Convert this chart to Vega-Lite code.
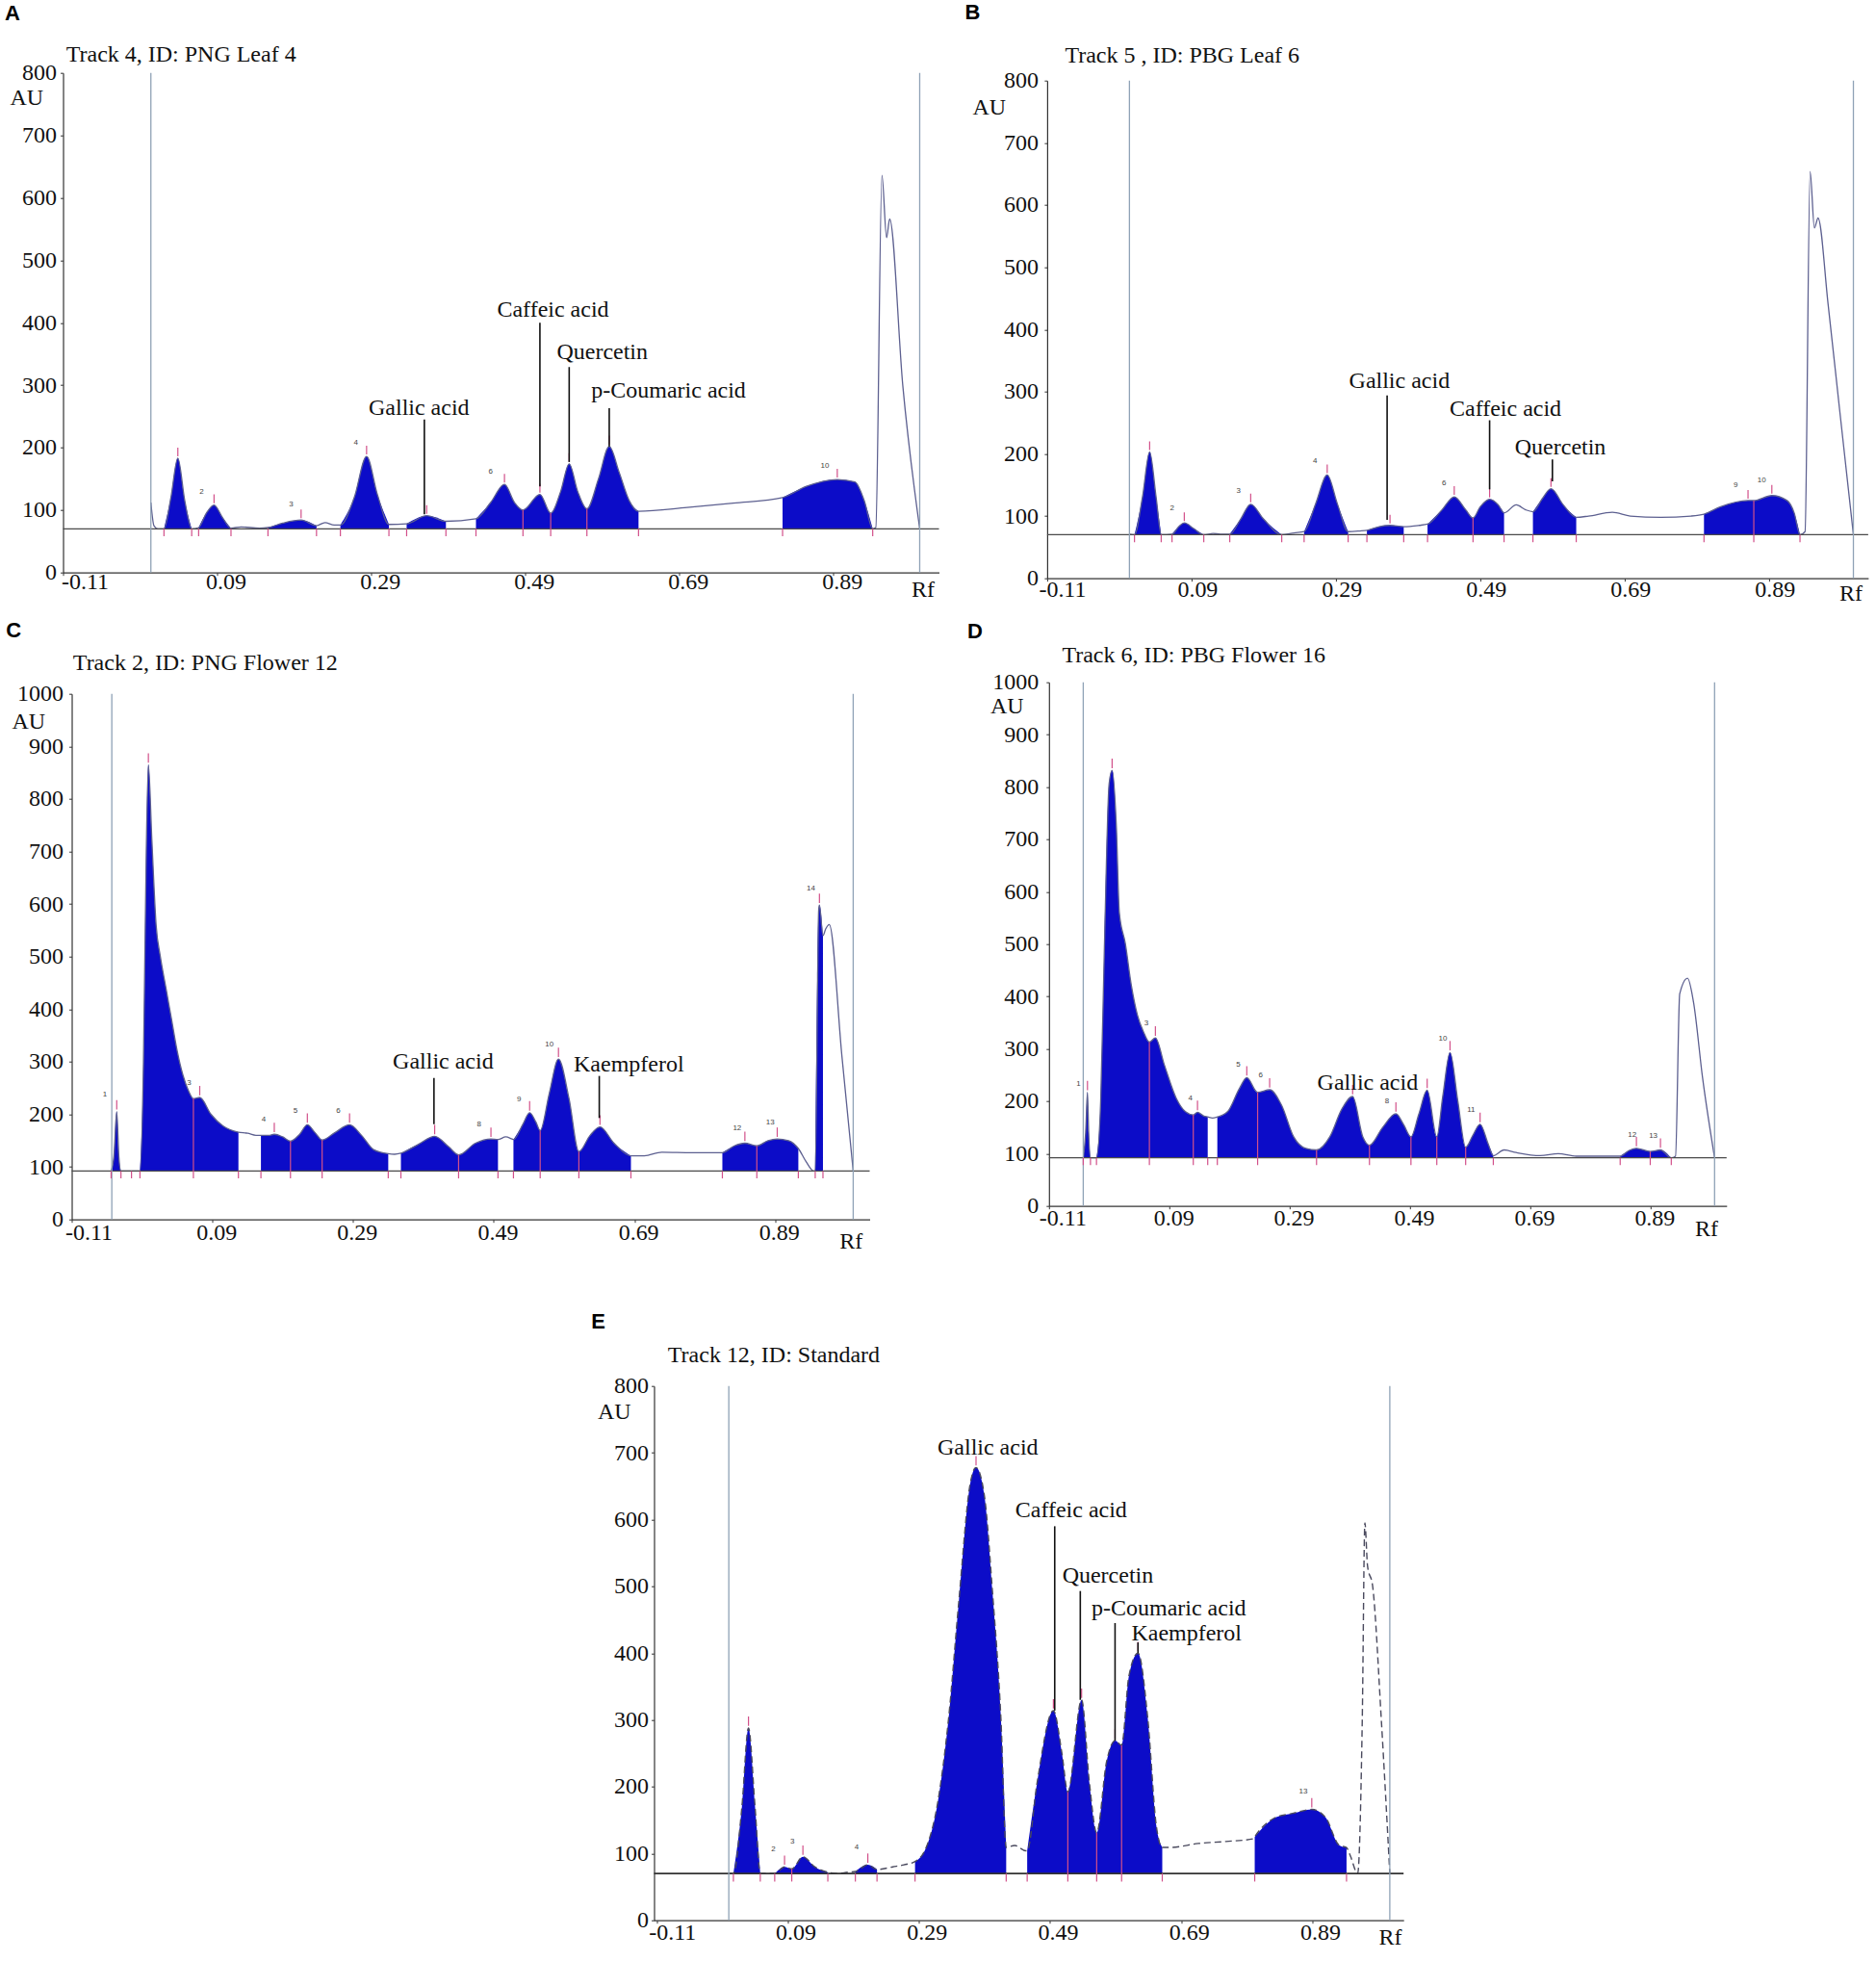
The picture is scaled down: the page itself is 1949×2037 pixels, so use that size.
{
"$schema": "https://vega.github.io/schema/vega-lite/v6.json",
"background": "white",
"padding": {"left": 4.5, "top": 0.7, "right": 0, "bottom": 0},
"config": {
 "view": {"stroke": null},
 "axis": {"grid": false, "labelFont": "Liberation Serif", "labelFontSize": 24, "labelColor": "#111", "titleFont": "Liberation Serif", "titleFontSize": 24, "titleFontWeight": "normal", "titleColor": "#111", "domainColor": "#333", "domainWidth": 1.2, "tickColor": "#333", "tickSize": 3, "labelOverlap": false, "labelFlush": false},
 "axisX": {"labelBaseline": "middle", "titleAlign": "center", "titleBaseline": "middle", "labelExpr": "replace(datum.label, '\u2212', '-')", "labelAlign": {"condition": {"test": "datum.value < -0.1", "value": "left"}, "value": "center"}},
 "axisY": {"titleAngle": 0, "titleAlign": "left", "titleBaseline": "middle", "format": "d"}
},
"datasets": {
 "trace": [
  {"p":"A","rf":0.004,"au":112},{"p":"A","rf":0.008,"au":75},{"p":"A","rf":0.013,"au":70},
  {"p":"A","rf":0.021,"au":70,"s":"1"},{"p":"A","rf":0.030,"au":120,"s":"1"},{"p":"A","rf":0.039,"au":183,"s":"1"},{"p":"A","rf":0.048,"au":115,"s":"1"},{"p":"A","rf":0.057,"au":70,"s":"1"},
  {"p":"A","rf":0.066,"au":72,"s":"2"},{"p":"A","rf":0.076,"au":95,"s":"2"},{"p":"A","rf":0.086,"au":108,"s":"2"},{"p":"A","rf":0.097,"au":88,"s":"2"},{"p":"A","rf":0.108,"au":71,"s":"2"},
  {"p":"A","rf":0.121,"au":73},{"p":"A","rf":0.145,"au":71},
  {"p":"A","rf":0.156,"au":72,"s":"3"},{"p":"A","rf":0.175,"au":79,"s":"3"},{"p":"A","rf":0.199,"au":84,"s":"3"},{"p":"A","rf":0.219,"au":75,"s":"3"},
  {"p":"A","rf":0.230,"au":80},{"p":"A","rf":0.242,"au":76},
  {"p":"A","rf":0.250,"au":76,"s":"4"},{"p":"A","rf":0.268,"au":120,"s":"4"},{"p":"A","rf":0.284,"au":186,"s":"4"},{"p":"A","rf":0.298,"au":125,"s":"4"},{"p":"A","rf":0.313,"au":77,"s":"4"},
  {"p":"A","rf":0.336,"au":78,"s":"5"},{"p":"A","rf":0.362,"au":91,"s":"5"},{"p":"A","rf":0.387,"au":82,"s":"5"},
  {"p":"A","rf":0.426,"au":86,"s":"6"},{"p":"A","rf":0.445,"au":112,"s":"6"},{"p":"A","rf":0.463,"au":141,"s":"6"},{"p":"A","rf":0.476,"au":112,"s":"6"},{"p":"A","rf":0.487,"au":100,"s":"6"},{"p":"A","rf":0.509,"au":125,"s":"6"},{"p":"A","rf":0.523,"au":95,"s":"6"},{"p":"A","rf":0.536,"au":130,"s":"6"},{"p":"A","rf":0.547,"au":174,"s":"6"},{"p":"A","rf":0.558,"au":130,"s":"6"},{"p":"A","rf":0.570,"au":102,"s":"6"},{"p":"A","rf":0.585,"au":150,"s":"6"},{"p":"A","rf":0.599,"au":202,"s":"6"},{"p":"A","rf":0.612,"au":160,"s":"6"},{"p":"A","rf":0.625,"au":115,"s":"6"},{"p":"A","rf":0.637,"au":98,"s":"6"},
  {"p":"A","rf":0.700,"au":104},{"p":"A","rf":0.760,"au":111},
  {"p":"A","rf":0.824,"au":120,"s":"7"},{"p":"A","rf":0.855,"au":138,"s":"7"},{"p":"A","rf":0.895,"au":149,"s":"7"},{"p":"A","rf":0.918,"au":145,"s":"7"},{"p":"A","rf":0.930,"au":115,"s":"7"},{"p":"A","rf":0.941,"au":70,"s":"7"},
  {"p":"A","rf":0.945,"au":72},{"p":"A","rf":0.953,"au":636},{"p":"A","rf":0.959,"au":536},{"p":"A","rf":0.963,"au":566},{"p":"A","rf":0.980,"au":300},{"p":"A","rf":1.002,"au":70},

  {"p":"B","rf":0.004,"au":71},
  {"p":"B","rf":0.011,"au":70,"s":"1"},{"p":"B","rf":0.022,"au":130,"s":"1"},{"p":"B","rf":0.032,"au":203,"s":"1"},{"p":"B","rf":0.041,"au":130,"s":"1"},{"p":"B","rf":0.048,"au":70,"s":"1"},
  {"p":"B","rf":0.063,"au":71,"s":"2"},{"p":"B","rf":0.073,"au":84,"s":"2"},{"p":"B","rf":0.080,"au":89,"s":"2"},{"p":"B","rf":0.093,"au":80,"s":"2"},{"p":"B","rf":0.107,"au":70,"s":"2"},
  {"p":"B","rf":0.120,"au":72},{"p":"B","rf":0.130,"au":71},
  {"p":"B","rf":0.143,"au":71,"s":"3"},{"p":"B","rf":0.158,"au":95,"s":"3"},{"p":"B","rf":0.172,"au":119,"s":"3"},{"p":"B","rf":0.190,"au":95,"s":"3"},{"p":"B","rf":0.215,"au":70,"s":"3"},
  {"p":"B","rf":0.232,"au":73},
  {"p":"B","rf":0.246,"au":75,"s":"4"},{"p":"B","rf":0.262,"au":120,"s":"4"},{"p":"B","rf":0.278,"au":166,"s":"4"},{"p":"B","rf":0.292,"au":120,"s":"4"},{"p":"B","rf":0.307,"au":75,"s":"4"},
  {"p":"B","rf":0.323,"au":76},
  {"p":"B","rf":0.333,"au":77,"s":"5"},{"p":"B","rf":0.350,"au":83,"s":"5"},{"p":"B","rf":0.365,"au":85,"s":"5"},{"p":"B","rf":0.384,"au":83,"s":"5"},
  {"p":"B","rf":0.405,"au":85},
  {"p":"B","rf":0.417,"au":87,"s":"6"},{"p":"B","rf":0.437,"au":110,"s":"6"},{"p":"B","rf":0.454,"au":131,"s":"6"},{"p":"B","rf":0.470,"au":110,"s":"6"},{"p":"B","rf":0.480,"au":97,"s":"6"},{"p":"B","rf":0.490,"au":115,"s":"6"},{"p":"B","rf":0.503,"au":127,"s":"6"},{"p":"B","rf":0.515,"au":118,"s":"6"},{"p":"B","rf":0.523,"au":105,"s":"6"},
  {"p":"B","rf":0.540,"au":118},{"p":"B","rf":0.553,"au":110},
  {"p":"B","rf":0.563,"au":107,"s":"7"},{"p":"B","rf":0.576,"au":128,"s":"7"},{"p":"B","rf":0.588,"au":144,"s":"7"},{"p":"B","rf":0.605,"au":118,"s":"7"},{"p":"B","rf":0.623,"au":98,"s":"7"},
  {"p":"B","rf":0.640,"au":100},{"p":"B","rf":0.673,"au":106},{"p":"B","rf":0.698,"au":100},{"p":"B","rf":0.740,"au":98},{"p":"B","rf":0.782,"au":100},
  {"p":"B","rf":0.800,"au":103,"s":"8"},{"p":"B","rf":0.823,"au":115,"s":"8"},{"p":"B","rf":0.861,"au":125,"s":"8"},{"p":"B","rf":0.869,"au":125,"s":"8"},{"p":"B","rf":0.894,"au":133,"s":"8"},{"p":"B","rf":0.915,"au":125,"s":"8"},{"p":"B","rf":0.925,"au":105,"s":"8"},{"p":"B","rf":0.933,"au":70,"s":"8"},
  {"p":"B","rf":0.940,"au":75},{"p":"B","rf":0.947,"au":654},{"p":"B","rf":0.953,"au":563},{"p":"B","rf":0.958,"au":579},{"p":"B","rf":0.972,"au":440},{"p":"B","rf":0.988,"au":270},{"p":"B","rf":1.007,"au":70},

  {"p":"C","rf":-0.054,"au":92,"s":"1"},{"p":"C","rf":-0.050,"au":120,"s":"1"},{"p":"C","rf":-0.046,"au":205,"s":"1"},{"p":"C","rf":-0.043,"au":120,"s":"1"},{"p":"C","rf":-0.040,"au":92,"s":"1"},
  {"p":"C","rf":-0.025,"au":92},
  {"p":"C","rf":-0.013,"au":92,"s":"2"},{"p":"C","rf":-0.008,"au":300,"s":"2"},{"p":"C","rf":-0.004,"au":700,"s":"2"},{"p":"C","rf":-0.001,"au":865,"s":"2"},{"p":"C","rf":0.004,"au":720,"s":"2"},{"p":"C","rf":0.010,"au":560,"s":"2"},{"p":"C","rf":0.016,"au":500,"s":"2"},{"p":"C","rf":0.024,"au":440,"s":"2"},{"p":"C","rf":0.032,"au":380,"s":"2"},{"p":"C","rf":0.040,"au":320,"s":"2"},{"p":"C","rf":0.048,"au":275,"s":"2"},{"p":"C","rf":0.056,"au":245,"s":"2"},{"p":"C","rf":0.063,"au":230,"s":"2"},{"p":"C","rf":0.072,"au":232,"s":"2"},{"p":"C","rf":0.088,"au":200,"s":"2"},{"p":"C","rf":0.105,"au":178,"s":"2"},{"p":"C","rf":0.127,"au":166,"s":"2"},
  {"p":"C","rf":0.140,"au":164},{"p":"C","rf":0.152,"au":160},
  {"p":"C","rf":0.159,"au":160,"s":"3"},{"p":"C","rf":0.170,"au":160,"s":"3"},{"p":"C","rf":0.178,"au":162,"s":"3"},{"p":"C","rf":0.190,"au":157,"s":"3"},{"p":"C","rf":0.201,"au":149,"s":"3"},{"p":"C","rf":0.214,"au":162,"s":"3"},{"p":"C","rf":0.225,"au":180,"s":"3"},{"p":"C","rf":0.236,"au":165,"s":"3"},{"p":"C","rf":0.246,"au":151,"s":"3"},{"p":"C","rf":0.264,"au":165,"s":"3"},{"p":"C","rf":0.285,"au":180,"s":"3"},{"p":"C","rf":0.302,"au":160,"s":"3"},{"p":"C","rf":0.319,"au":133,"s":"3"},{"p":"C","rf":0.340,"au":125,"s":"3"},
  {"p":"C","rf":0.349,"au":124},
  {"p":"C","rf":0.358,"au":126,"s":"4"},{"p":"C","rf":0.383,"au":143,"s":"4"},{"p":"C","rf":0.406,"au":158,"s":"4"},{"p":"C","rf":0.426,"au":138,"s":"4"},{"p":"C","rf":0.440,"au":123,"s":"4"},{"p":"C","rf":0.464,"au":145,"s":"4"},{"p":"C","rf":0.486,"au":153,"s":"4"},{"p":"C","rf":0.496,"au":152,"s":"4"},
  {"p":"C","rf":0.507,"au":157},{"p":"C","rf":0.516,"au":153},
  {"p":"C","rf":0.518,"au":152,"s":"5"},{"p":"C","rf":0.531,"au":180,"s":"5"},{"p":"C","rf":0.541,"au":203,"s":"5"},{"p":"C","rf":0.550,"au":185,"s":"5"},{"p":"C","rf":0.556,"au":169,"s":"5"},{"p":"C","rf":0.569,"au":240,"s":"5"},{"p":"C","rf":0.582,"au":305,"s":"5"},{"p":"C","rf":0.597,"au":230,"s":"5"},{"p":"C","rf":0.611,"au":129,"s":"5"},{"p":"C","rf":0.627,"au":160,"s":"5"},{"p":"C","rf":0.641,"au":176,"s":"5"},{"p":"C","rf":0.661,"au":145,"s":"5"},{"p":"C","rf":0.685,"au":121,"s":"5"},
  {"p":"C","rf":0.704,"au":121},{"p":"C","rf":0.729,"au":128},{"p":"C","rf":0.772,"au":127},
  {"p":"C","rf":0.815,"au":127,"s":"6"},{"p":"C","rf":0.832,"au":140,"s":"6"},{"p":"C","rf":0.847,"au":145,"s":"6"},{"p":"C","rf":0.864,"au":140,"s":"6"},{"p":"C","rf":0.880,"au":150,"s":"6"},{"p":"C","rf":0.893,"au":153,"s":"6"},{"p":"C","rf":0.909,"au":150,"s":"6"},{"p":"C","rf":0.923,"au":135,"s":"6"},
  {"p":"C","rf":0.934,"au":110},{"p":"C","rf":0.945,"au":92},
  {"p":"C","rf":0.947,"au":92,"s":"7"},{"p":"C","rf":0.952,"au":590,"s":"7"},{"p":"C","rf":0.953,"au":598,"s":"7"},{"p":"C","rf":0.958,"au":540,"s":"7"},
  {"p":"C","rf":0.962,"au":553},{"p":"C","rf":0.967,"au":561},{"p":"C","rf":0.985,"au":310},{"p":"C","rf":1.001,"au":92},

  {"p":"D","rf":-0.053,"au":92,"s":"1"},{"p":"D","rf":-0.049,"au":140,"s":"1"},{"p":"D","rf":-0.046,"au":217,"s":"1"},{"p":"D","rf":-0.044,"au":140,"s":"1"},{"p":"D","rf":-0.041,"au":92,"s":"1"},
  {"p":"D","rf":-0.036,"au":92},
  {"p":"D","rf":-0.031,"au":92,"s":"2"},{"p":"D","rf":-0.024,"au":200,"s":"2"},{"p":"D","rf":-0.018,"au":485,"s":"2"},{"p":"D","rf":-0.010,"au":806,"s":"2"},{"p":"D","rf":-0.005,"au":832,"s":"2"},{"p":"D","rf":0.002,"au":726,"s":"2"},{"p":"D","rf":0.007,"au":560,"s":"2"},{"p":"D","rf":0.017,"au":501,"s":"2"},{"p":"D","rf":0.027,"au":421,"s":"2"},{"p":"D","rf":0.037,"au":365,"s":"2"},{"p":"D","rf":0.047,"au":333,"s":"2"},{"p":"D","rf":0.057,"au":313,"s":"2"},{"p":"D","rf":0.067,"au":321,"s":"2"},{"p":"D","rf":0.082,"au":269,"s":"2"},{"p":"D","rf":0.102,"au":205,"s":"2"},{"p":"D","rf":0.117,"au":180,"s":"2"},{"p":"D","rf":0.130,"au":174,"s":"2"},{"p":"D","rf":0.137,"au":179,"s":"2"},{"p":"D","rf":0.147,"au":172,"s":"2"},{"p":"D","rf":0.154,"au":170,"s":"2"},
  {"p":"D","rf":0.162,"au":168},
  {"p":"D","rf":0.170,"au":170,"s":"3"},{"p":"D","rf":0.187,"au":180,"s":"3"},{"p":"D","rf":0.207,"au":225,"s":"3"},{"p":"D","rf":0.219,"au":245,"s":"3"},{"p":"D","rf":0.237,"au":217,"s":"3"},{"p":"D","rf":0.257,"au":222,"s":"3"},{"p":"D","rf":0.277,"au":192,"s":"3"},{"p":"D","rf":0.297,"au":132,"s":"3"},{"p":"D","rf":0.317,"au":110,"s":"3"},{"p":"D","rf":0.335,"au":107,"s":"3"},{"p":"D","rf":0.357,"au":132,"s":"3"},{"p":"D","rf":0.377,"au":185,"s":"3"},{"p":"D","rf":0.395,"au":209,"s":"3"},{"p":"D","rf":0.412,"au":132,"s":"3"},{"p":"D","rf":0.423,"au":116,"s":"3"},{"p":"D","rf":0.445,"au":150,"s":"3"},{"p":"D","rf":0.467,"au":176,"s":"3"},{"p":"D","rf":0.480,"au":155,"s":"3"},{"p":"D","rf":0.492,"au":132,"s":"3"},{"p":"D","rf":0.505,"au":175,"s":"3"},{"p":"D","rf":0.519,"au":221,"s":"3"},{"p":"D","rf":0.535,"au":132,"s":"3"},{"p":"D","rf":0.545,"au":210,"s":"3"},{"p":"D","rf":0.557,"au":293,"s":"3"},{"p":"D","rf":0.570,"au":200,"s":"3"},{"p":"D","rf":0.583,"au":112,"s":"3"},{"p":"D","rf":0.595,"au":135,"s":"3"},{"p":"D","rf":0.607,"au":156,"s":"3"},{"p":"D","rf":0.620,"au":120,"s":"3"},{"p":"D","rf":0.629,"au":96,"s":"3"},
  {"p":"D","rf":0.647,"au":107},{"p":"D","rf":0.667,"au":102},{"p":"D","rf":0.707,"au":96},{"p":"D","rf":0.737,"au":100},{"p":"D","rf":0.767,"au":95},{"p":"D","rf":0.807,"au":95},
  {"p":"D","rf":0.840,"au":95,"s":"4"},{"p":"D","rf":0.855,"au":106,"s":"4"},{"p":"D","rf":0.867,"au":110,"s":"4"},{"p":"D","rf":0.890,"au":104,"s":"4"},{"p":"D","rf":0.907,"au":107,"s":"4"},{"p":"D","rf":0.925,"au":92,"s":"4"},
  {"p":"D","rf":0.932,"au":95},{"p":"D","rf":0.939,"au":405},{"p":"D","rf":0.952,"au":435},{"p":"D","rf":0.962,"au":389},{"p":"D","rf":0.977,"au":245},{"p":"D","rf":0.997,"au":92},

  {"p":"E","rf":0.000,"au":70},
  {"p":"E","rf":0.007,"au":70,"s":"1"},{"p":"E","rf":0.020,"au":170,"s":"1"},{"p":"E","rf":0.030,"au":288,"s":"1"},{"p":"E","rf":0.040,"au":170,"s":"1"},{"p":"E","rf":0.048,"au":70,"s":"1"},
  {"p":"E","rf":0.060,"au":70},
  {"p":"E","rf":0.070,"au":70,"s":"2"},{"p":"E","rf":0.085,"au":80,"s":"2"},{"p":"E","rf":0.096,"au":77,"s":"2"},{"p":"E","rf":0.113,"au":95,"s":"2"},{"p":"E","rf":0.131,"au":80,"s":"2"},{"p":"E","rf":0.151,"au":72,"s":"2"},
  {"p":"E","rf":0.165,"au":70},{"p":"E","rf":0.182,"au":72},
  {"p":"E","rf":0.193,"au":73,"s":"3"},{"p":"E","rf":0.212,"au":83,"s":"3"},{"p":"E","rf":0.226,"au":76,"s":"3"},
  {"p":"E","rf":0.250,"au":80},{"p":"E","rf":0.267,"au":83},
  {"p":"E","rf":0.284,"au":88,"s":"4"},{"p":"E","rf":0.301,"au":109,"s":"4"},{"p":"E","rf":0.318,"au":173,"s":"4"},{"p":"E","rf":0.335,"au":301,"s":"4"},{"p":"E","rf":0.351,"au":480,"s":"4"},{"p":"E","rf":0.368,"au":653,"s":"4"},{"p":"E","rf":0.377,"au":678,"s":"4"},{"p":"E","rf":0.390,"au":634,"s":"4"},{"p":"E","rf":0.402,"au":493,"s":"4"},{"p":"E","rf":0.415,"au":301,"s":"4"},{"p":"E","rf":0.423,"au":109,"s":"4"},
  {"p":"E","rf":0.436,"au":112},{"p":"E","rf":0.453,"au":104},
  {"p":"E","rf":0.455,"au":104,"s":"5"},{"p":"E","rf":0.470,"au":205,"s":"5"},{"p":"E","rf":0.495,"au":314,"s":"5"},{"p":"E","rf":0.508,"au":250,"s":"5"},{"p":"E","rf":0.517,"au":192,"s":"5"},{"p":"E","rf":0.538,"au":330,"s":"5"},{"p":"E","rf":0.550,"au":205,"s":"5"},{"p":"E","rf":0.561,"au":131,"s":"5"},{"p":"E","rf":0.576,"au":237,"s":"5"},{"p":"E","rf":0.589,"au":269,"s":"5"},{"p":"E","rf":0.599,"au":262,"s":"5"},{"p":"E","rf":0.610,"au":365,"s":"5"},{"p":"E","rf":0.624,"au":400,"s":"5"},{"p":"E","rf":0.639,"au":301,"s":"5"},{"p":"E","rf":0.652,"au":141,"s":"5"},{"p":"E","rf":0.661,"au":109,"s":"5"},
  {"p":"E","rf":0.673,"au":109},{"p":"E","rf":0.716,"au":115},{"p":"E","rf":0.758,"au":118},{"p":"E","rf":0.800,"au":122},
  {"p":"E","rf":0.802,"au":125,"s":"6"},{"p":"E","rf":0.834,"au":154,"s":"6"},{"p":"E","rf":0.860,"au":160,"s":"6"},{"p":"E","rf":0.889,"au":166,"s":"6"},{"p":"E","rf":0.910,"au":154,"s":"6"},{"p":"E","rf":0.931,"au":112,"s":"6"},{"p":"E","rf":0.942,"au":109,"s":"6"},
  {"p":"E","rf":0.948,"au":96},{"p":"E","rf":0.959,"au":70},{"p":"E","rf":0.966,"au":300},{"p":"E","rf":0.970,"au":595},{"p":"E","rf":0.974,"au":531},{"p":"E","rf":0.982,"au":499},{"p":"E","rf":0.995,"au":301},{"p":"E","rf":1.008,"au":70}
 ],
 "bl": [{"p":"A","au":70},{"p":"B","au":70},{"p":"C","au":92},{"p":"D","au":92},{"p":"E","au":70}],
 "vl": [{"p":"A","rf":0.004},{"p":"A","rf":1.002},{"p":"B","rf":0.004},{"p":"B","rf":1.007},{"p":"C","rf":-0.053},{"p":"C","rf":1.001},{"p":"D","rf":-0.053},{"p":"D","rf":0.997},{"p":"E","rf":0.0},{"p":"E","rf":1.008}],
 "tk": [
  {"p":"A","rf":0.021,"lo":58,"hi":70},{"p":"A","rf":0.057,"lo":58,"hi":70},{"p":"A","rf":0.066,"lo":58,"hi":70},{"p":"A","rf":0.108,"lo":58,"hi":70},{"p":"A","rf":0.156,"lo":58,"hi":70},{"p":"A","rf":0.219,"lo":58,"hi":70},{"p":"A","rf":0.250,"lo":58,"hi":70},{"p":"A","rf":0.313,"lo":58,"hi":70},{"p":"A","rf":0.336,"lo":58,"hi":70},{"p":"A","rf":0.387,"lo":58,"hi":70},{"p":"A","rf":0.426,"lo":58,"hi":70},{"p":"A","rf":0.487,"lo":58,"hi":100},{"p":"A","rf":0.523,"lo":58,"hi":95},{"p":"A","rf":0.570,"lo":58,"hi":102},{"p":"A","rf":0.637,"lo":58,"hi":70},{"p":"A","rf":0.824,"lo":58,"hi":70},{"p":"A","rf":0.941,"lo":58,"hi":70},
  {"p":"A","rf":0.039,"lo":186,"hi":200},{"p":"A","rf":0.086,"lo":111,"hi":125},{"p":"A","rf":0.199,"lo":87,"hi":101},{"p":"A","rf":0.284,"lo":189,"hi":203},{"p":"A","rf":0.362,"lo":94,"hi":108},{"p":"A","rf":0.463,"lo":144,"hi":158},{"p":"A","rf":0.509,"lo":128,"hi":142},{"p":"A","rf":0.547,"lo":177,"hi":191},{"p":"A","rf":0.599,"lo":205,"hi":219},{"p":"A","rf":0.895,"lo":152,"hi":166},
  {"p":"B","rf":0.011,"lo":58,"hi":70},{"p":"B","rf":0.048,"lo":58,"hi":70},{"p":"B","rf":0.063,"lo":58,"hi":70},{"p":"B","rf":0.107,"lo":58,"hi":70},{"p":"B","rf":0.143,"lo":58,"hi":70},{"p":"B","rf":0.215,"lo":58,"hi":70},{"p":"B","rf":0.246,"lo":58,"hi":70},{"p":"B","rf":0.307,"lo":58,"hi":70},{"p":"B","rf":0.333,"lo":58,"hi":70},{"p":"B","rf":0.384,"lo":58,"hi":70},{"p":"B","rf":0.417,"lo":58,"hi":70},{"p":"B","rf":0.480,"lo":58,"hi":97},{"p":"B","rf":0.523,"lo":58,"hi":70},{"p":"B","rf":0.563,"lo":58,"hi":70},{"p":"B","rf":0.623,"lo":58,"hi":70},{"p":"B","rf":0.800,"lo":58,"hi":70},{"p":"B","rf":0.869,"lo":58,"hi":125},{"p":"B","rf":0.933,"lo":58,"hi":70},
  {"p":"B","rf":0.032,"lo":206,"hi":220},{"p":"B","rf":0.080,"lo":92,"hi":106},{"p":"B","rf":0.172,"lo":122,"hi":136},{"p":"B","rf":0.278,"lo":169,"hi":183},{"p":"B","rf":0.365,"lo":88,"hi":102},{"p":"B","rf":0.454,"lo":134,"hi":148},{"p":"B","rf":0.503,"lo":130,"hi":144},{"p":"B","rf":0.588,"lo":147,"hi":161},{"p":"B","rf":0.861,"lo":128,"hi":142},{"p":"B","rf":0.894,"lo":136,"hi":150},
  {"p":"C","rf":-0.054,"lo":78,"hi":92},{"p":"C","rf":-0.040,"lo":78,"hi":92},{"p":"C","rf":-0.025,"lo":78,"hi":92},{"p":"C","rf":-0.013,"lo":78,"hi":92},{"p":"C","rf":0.063,"lo":78,"hi":230},{"p":"C","rf":0.127,"lo":78,"hi":92},{"p":"C","rf":0.159,"lo":78,"hi":92},{"p":"C","rf":0.201,"lo":78,"hi":149},{"p":"C","rf":0.246,"lo":78,"hi":151},{"p":"C","rf":0.340,"lo":78,"hi":92},{"p":"C","rf":0.358,"lo":78,"hi":92},{"p":"C","rf":0.440,"lo":78,"hi":123},{"p":"C","rf":0.496,"lo":78,"hi":92},{"p":"C","rf":0.518,"lo":78,"hi":92},{"p":"C","rf":0.556,"lo":78,"hi":169},{"p":"C","rf":0.611,"lo":78,"hi":129},{"p":"C","rf":0.685,"lo":78,"hi":92},{"p":"C","rf":0.815,"lo":78,"hi":92},{"p":"C","rf":0.864,"lo":78,"hi":140},{"p":"C","rf":0.923,"lo":78,"hi":92},{"p":"C","rf":0.947,"lo":78,"hi":92},{"p":"C","rf":0.958,"lo":78,"hi":92},
  {"p":"C","rf":-0.046,"lo":209,"hi":227},{"p":"C","rf":-0.001,"lo":869,"hi":887},{"p":"C","rf":0.072,"lo":236,"hi":254},{"p":"C","rf":0.178,"lo":166,"hi":184},{"p":"C","rf":0.225,"lo":184,"hi":202},{"p":"C","rf":0.285,"lo":184,"hi":202},{"p":"C","rf":0.406,"lo":162,"hi":180},{"p":"C","rf":0.486,"lo":157,"hi":175},{"p":"C","rf":0.541,"lo":207,"hi":225},{"p":"C","rf":0.582,"lo":309,"hi":327},{"p":"C","rf":0.641,"lo":180,"hi":198},{"p":"C","rf":0.847,"lo":149,"hi":167},{"p":"C","rf":0.893,"lo":157,"hi":175},{"p":"C","rf":0.953,"lo":602,"hi":620},
  {"p":"D","rf":-0.053,"lo":78,"hi":92},{"p":"D","rf":-0.041,"lo":78,"hi":92},{"p":"D","rf":-0.031,"lo":78,"hi":92},{"p":"D","rf":0.057,"lo":78,"hi":313},{"p":"D","rf":0.130,"lo":78,"hi":174},{"p":"D","rf":0.154,"lo":78,"hi":92},{"p":"D","rf":0.170,"lo":78,"hi":92},{"p":"D","rf":0.237,"lo":78,"hi":217},{"p":"D","rf":0.335,"lo":78,"hi":107},{"p":"D","rf":0.423,"lo":78,"hi":116},{"p":"D","rf":0.492,"lo":78,"hi":132},{"p":"D","rf":0.535,"lo":78,"hi":132},{"p":"D","rf":0.583,"lo":78,"hi":112},{"p":"D","rf":0.629,"lo":78,"hi":92},{"p":"D","rf":0.840,"lo":78,"hi":92},{"p":"D","rf":0.890,"lo":78,"hi":104},{"p":"D","rf":0.925,"lo":78,"hi":92},
  {"p":"D","rf":-0.046,"lo":221,"hi":239},{"p":"D","rf":-0.005,"lo":836,"hi":854},{"p":"D","rf":0.067,"lo":325,"hi":343},{"p":"D","rf":0.137,"lo":183,"hi":201},{"p":"D","rf":0.219,"lo":249,"hi":267},{"p":"D","rf":0.257,"lo":226,"hi":244},{"p":"D","rf":0.395,"lo":213,"hi":231},{"p":"D","rf":0.467,"lo":180,"hi":198},{"p":"D","rf":0.519,"lo":225,"hi":243},{"p":"D","rf":0.557,"lo":297,"hi":315},{"p":"D","rf":0.607,"lo":160,"hi":178},{"p":"D","rf":0.867,"lo":114,"hi":132},{"p":"D","rf":0.907,"lo":111,"hi":129},
  {"p":"E","rf":0.007,"lo":58,"hi":70},{"p":"E","rf":0.048,"lo":58,"hi":70},{"p":"E","rf":0.070,"lo":58,"hi":70},{"p":"E","rf":0.096,"lo":58,"hi":77},{"p":"E","rf":0.151,"lo":58,"hi":70},{"p":"E","rf":0.193,"lo":58,"hi":70},{"p":"E","rf":0.226,"lo":58,"hi":70},{"p":"E","rf":0.284,"lo":58,"hi":70},{"p":"E","rf":0.423,"lo":58,"hi":70},{"p":"E","rf":0.455,"lo":58,"hi":70},{"p":"E","rf":0.517,"lo":58,"hi":192},{"p":"E","rf":0.561,"lo":58,"hi":131},{"p":"E","rf":0.599,"lo":58,"hi":262},{"p":"E","rf":0.661,"lo":58,"hi":70},{"p":"E","rf":0.802,"lo":58,"hi":70},{"p":"E","rf":0.942,"lo":58,"hi":70},
  {"p":"E","rf":0.030,"lo":291,"hi":305},{"p":"E","rf":0.085,"lo":83,"hi":97},{"p":"E","rf":0.113,"lo":98,"hi":112},{"p":"E","rf":0.212,"lo":86,"hi":100},{"p":"E","rf":0.377,"lo":681,"hi":695},{"p":"E","rf":0.495,"lo":317,"hi":331},{"p":"E","rf":0.538,"lo":333,"hi":347},{"p":"E","rf":0.589,"lo":272,"hi":286},{"p":"E","rf":0.624,"lo":403,"hi":417},{"p":"E","rf":0.889,"lo":169,"hi":183}
 ],
 "ann": [
  {"p":"A","name":"Gallic acid","rf":0.352,"au":263,"lx":0.359,"ly1":245,"ly2":93},
  {"p":"A","name":"Caffeic acid","rf":0.526,"au":421,"lx":0.509,"ly1":400,"ly2":138},
  {"p":"A","name":"Quercetin","rf":0.590,"au":353,"lx":0.547,"ly1":329,"ly2":177},
  {"p":"A","name":"p-Coumaric acid","rf":0.676,"au":291,"lx":0.599,"ly1":263,"ly2":202},
  {"p":"B","name":"Gallic acid","rf":0.378,"au":316,"lx":0.361,"ly1":294,"ly2":94},
  {"p":"B","name":"Caffeic acid","rf":0.525,"au":272,"lx":0.503,"ly1":254,"ly2":143},
  {"p":"B","name":"Quercetin","rf":0.601,"au":210,"lx":0.590,"ly1":191,"ly2":156},
  {"p":"C","name":"Gallic acid","rf":0.418,"au":299,"lx":0.405,"ly1":269,"ly2":181},
  {"p":"C","name":"Kaempferol","rf":0.682,"au":295,"lx":0.640,"ly1":273,"ly2":193},
  {"p":"D","name":"Gallic acid","rf":0.420,"au":234},
  {"p":"E","name":"Gallic acid","rf":0.395,"au":707},
  {"p":"E","name":"Caffeic acid","rf":0.522,"au":613,"lx":0.497,"ly1":590,"ly2":314},
  {"p":"E","name":"Quercetin","rf":0.578,"au":515,"lx":0.536,"ly1":493,"ly2":330},
  {"p":"E","name":"p-Coumaric acid","rf":0.671,"au":467,"lx":0.589,"ly1":445,"ly2":269},
  {"p":"E","name":"Kaempferol","rf":0.698,"au":429,"lx":0.624,"ly1":416,"ly2":400}
 ],
 "pk": [
  {"p":"A","n":"2","rf":0.070,"au":129},{"p":"A","n":"3","rf":0.186,"au":109},{"p":"A","n":"4","rf":0.270,"au":208},{"p":"A","n":"6","rf":0.445,"au":162},{"p":"A","n":"10","rf":0.879,"au":171},
  {"p":"B","n":"2","rf":0.063,"au":113},{"p":"B","n":"3","rf":0.155,"au":141},{"p":"B","n":"4","rf":0.261,"au":188},{"p":"B","n":"6","rf":0.440,"au":153},{"p":"B","n":"9","rf":0.844,"au":150},{"p":"B","n":"10","rf":0.880,"au":157},
  {"p":"C","n":"1","rf":-0.063,"au":237},{"p":"C","n":"3","rf":0.057,"au":260},{"p":"C","n":"4","rf":0.163,"au":189},{"p":"C","n":"5","rf":0.208,"au":207},{"p":"C","n":"6","rf":0.269,"au":207},{"p":"C","n":"8","rf":0.469,"au":181},{"p":"C","n":"9","rf":0.526,"au":229},{"p":"C","n":"10","rf":0.569,"au":332},{"p":"C","n":"12","rf":0.836,"au":173},{"p":"C","n":"13","rf":0.883,"au":184},{"p":"C","n":"14","rf":0.941,"au":629},
  {"p":"D","n":"1","rf":-0.061,"au":233},{"p":"D","n":"3","rf":0.052,"au":349},{"p":"D","n":"4","rf":0.125,"au":206},{"p":"D","n":"5","rf":0.205,"au":270},{"p":"D","n":"6","rf":0.242,"au":249},{"p":"D","n":"8","rf":0.452,"au":200},{"p":"D","n":"10","rf":0.545,"au":319},{"p":"D","n":"11","rf":0.592,"au":184},{"p":"D","n":"12","rf":0.860,"au":136},{"p":"D","n":"13","rf":0.895,"au":134},
  {"p":"E","n":"2","rf":0.068,"au":106},{"p":"E","n":"3","rf":0.097,"au":118},{"p":"E","n":"4","rf":0.195,"au":109},{"p":"E","n":"13","rf":0.876,"au":192}
 ],
 "ttl": [
  {"p":"A","k":"L","txt":"A","rf":-0.1758,"au":895.6},{"p":"A","k":"T","txt":"Track 4, ID: PNG Leaf 4","rf":-0.106,"au":829},
  {"p":"B","k":"L","txt":"B","rf":-0.2133,"au":909.9},{"p":"B","k":"T","txt":"Track 5 , ID: PBG Leaf 6","rf":-0.0853,"au":839.5},
  {"p":"C","k":"L","txt":"C","rf":-0.1924,"au":1120.1},{"p":"C","k":"T","txt":"Track 2, ID: PNG Flower 12","rf":-0.1082,"au":1058.2},
  {"p":"D","k":"L","txt":"D","rf":-0.2331,"au":1097.2},{"p":"D","k":"T","txt":"Track 6, ID: PBG Flower 16","rf":-0.0882,"au":1050.6},
  {"p":"E","k":"L","txt":"E","rf":-0.1989,"au":896.6},{"p":"E","k":"T","txt":"Track 12, ID: Standard","rf":-0.093,"au":846.1}
 ],
 "sp": [{"v": 0}]
},
"bounds": "flush",
"spacing": 0,
"vconcat": [
 {"bounds": "flush", "spacing": 112.4, "hconcat": [
  {"width": 910, "height": 519, "layer": [
    {"data":{"name":"trace"},"transform":[{"filter":"datum.p=='A' && isValid(datum.s)"}],"mark":{"type":"area","interpolate":"monotone","color":"#0c0cc8"},
     "encoding":{"x":{"field":"rf","type":"quantitative","scale":{"domain":[-0.11,1.027],"nice":false,"zero":false},"axis":{"values":[-0.11,0.09,0.29,0.49,0.69,0.89],"format":".2f","labelOffset":{"condition":{"test":"datum.value < -0.1","value":-2},"value":9},"labelPadding":7,"title":"Rf","titleX":893,"titleY":18}},
      "y":{"field":"au","type":"quantitative","scale":{"domain":[0,800],"nice":false},"axis":{"values":[0,100,200,300,400,500,600,700,800],"labelPadding":4,"title":"AU","titleX":-55.6,"titleY":26}},
      "y2":{"datum":70},"detail":{"field":"s"}}},
    {"data":{"name":"trace"},"transform":[{"filter":"datum.p=='A'"}],"mark":{"type":"line","interpolate":"monotone","color":"#5d6090","strokeWidth":1.3},"encoding":{"x":{"field":"rf","type":"quantitative"},"y":{"field":"au","type":"quantitative"}}},
    {"data":{"name":"bl"},"transform":[{"filter":"datum.p=='A'"}],"mark":{"type":"rule","color":"#4a4a4a","strokeWidth":1.3},"encoding":{"y":{"field":"au","type":"quantitative"}}},
    {"data":{"name":"vl"},"transform":[{"filter":"datum.p=='A'"}],"mark":{"type":"rule","color":"#8fa2b6","strokeWidth":1.3},"encoding":{"x":{"field":"rf","type":"quantitative"}}},
    {"data":{"name":"tk"},"transform":[{"filter":"datum.p=='A'"}],"mark":{"type":"rule","color":"#d2508a","strokeWidth":1.2},"encoding":{"x":{"field":"rf","type":"quantitative"},"y":{"field":"lo","type":"quantitative"},"y2":{"field":"hi"}}},
    {"data":{"name":"ann"},"transform":[{"filter":"datum.p=='A' && isValid(datum.lx)"}],"mark":{"type":"rule","color":"#111","strokeWidth":1.6},"encoding":{"x":{"field":"lx","type":"quantitative"},"y":{"field":"ly1","type":"quantitative"},"y2":{"field":"ly2"}}},
    {"data":{"name":"ann"},"transform":[{"filter":"datum.p=='A'"}],"mark":{"type":"text","font":"Liberation Serif","fontSize":24,"color":"#111","align":"center","baseline":"middle"},"encoding":{"x":{"field":"rf","type":"quantitative"},"y":{"field":"au","type":"quantitative"},"text":{"field":"name"}}},
    {"data":{"name":"pk"},"transform":[{"filter":"datum.p=='A'"}],"mark":{"type":"text","font":"Liberation Sans","fontSize":8,"color":"#444","align":"center","baseline":"middle"},"encoding":{"x":{"field":"rf","type":"quantitative"},"y":{"field":"au","type":"quantitative"},"text":{"field":"n"}}},
    {"data":{"name":"ttl"},"transform":[{"filter":"datum.p=='A' && datum.k=='T'"}],"mark":{"type":"text","font":"Liberation Serif","fontSize":24,"color":"#111","align":"left","baseline":"middle"},"encoding":{"x":{"field":"rf","type":"quantitative"},"y":{"field":"au","type":"quantitative"},"text":{"field":"txt"}}},
    {"data":{"name":"ttl"},"transform":[{"filter":"datum.p=='A' && datum.k=='L'"}],"mark":{"type":"text","font":"Liberation Sans","fontSize":22,"fontWeight":"bold","color":"#000","align":"center","baseline":"middle"},"encoding":{"x":{"field":"rf","type":"quantitative"},"y":{"field":"au","type":"quantitative"},"text":{"field":"txt"}}}
  ]},
  {"bounds": "flush", "spacing": 0, "vconcat": [
   {"width": 1, "height": 8, "data": {"name": "sp"}, "mark": {"type": "text", "text": " ", "fontSize": 1},
    "encoding": {"x": {"field": "v", "type": "quantitative", "scale": {"domain": [0, 1]}, "axis": null}, "y": {"field": "v", "type": "quantitative", "scale": {"domain": [0, 1]}, "axis": null}}},
   {"width": 853, "height": 517, "layer": [
    {"data":{"name":"trace"},"transform":[{"filter":"datum.p=='B' && isValid(datum.s)"}],"mark":{"type":"area","interpolate":"monotone","color":"#0c0cc8"},
     "encoding":{"x":{"field":"rf","type":"quantitative","scale":{"domain":[-0.11,1.0275],"nice":false,"zero":false},"axis":{"values":[-0.11,0.09,0.29,0.49,0.69,0.89],"format":".2f","labelOffset":{"condition":{"test":"datum.value < -0.1","value":-9},"value":6},"labelPadding":9,"title":"Rf","titleX":834.5,"titleY":16}},
      "y":{"field":"au","type":"quantitative","scale":{"domain":[0,800],"nice":false},"axis":{"values":[0,100,200,300,400,500,600,700,800],"labelPadding":6.5,"title":"AU","titleX":-78,"titleY":28}},
      "y2":{"datum":70},"detail":{"field":"s"}}},
    {"data":{"name":"trace"},"transform":[{"filter":"datum.p=='B'"}],"mark":{"type":"line","interpolate":"monotone","color":"#5d6090","strokeWidth":1.3},"encoding":{"x":{"field":"rf","type":"quantitative"},"y":{"field":"au","type":"quantitative"}}},
    {"data":{"name":"bl"},"transform":[{"filter":"datum.p=='B'"}],"mark":{"type":"rule","color":"#4a4a4a","strokeWidth":1.3},"encoding":{"y":{"field":"au","type":"quantitative"}}},
    {"data":{"name":"vl"},"transform":[{"filter":"datum.p=='B'"}],"mark":{"type":"rule","color":"#8fa2b6","strokeWidth":1.3},"encoding":{"x":{"field":"rf","type":"quantitative"}}},
    {"data":{"name":"tk"},"transform":[{"filter":"datum.p=='B'"}],"mark":{"type":"rule","color":"#d2508a","strokeWidth":1.2},"encoding":{"x":{"field":"rf","type":"quantitative"},"y":{"field":"lo","type":"quantitative"},"y2":{"field":"hi"}}},
    {"data":{"name":"ann"},"transform":[{"filter":"datum.p=='B' && isValid(datum.lx)"}],"mark":{"type":"rule","color":"#111","strokeWidth":1.6},"encoding":{"x":{"field":"lx","type":"quantitative"},"y":{"field":"ly1","type":"quantitative"},"y2":{"field":"ly2"}}},
    {"data":{"name":"ann"},"transform":[{"filter":"datum.p=='B'"}],"mark":{"type":"text","font":"Liberation Serif","fontSize":24,"color":"#111","align":"center","baseline":"middle"},"encoding":{"x":{"field":"rf","type":"quantitative"},"y":{"field":"au","type":"quantitative"},"text":{"field":"name"}}},
    {"data":{"name":"pk"},"transform":[{"filter":"datum.p=='B'"}],"mark":{"type":"text","font":"Liberation Sans","fontSize":8,"color":"#444","align":"center","baseline":"middle"},"encoding":{"x":{"field":"rf","type":"quantitative"},"y":{"field":"au","type":"quantitative"},"text":{"field":"n"}}},
    {"data":{"name":"ttl"},"transform":[{"filter":"datum.p=='B' && datum.k=='T'"}],"mark":{"type":"text","font":"Liberation Serif","fontSize":24,"color":"#111","align":"left","baseline":"middle"},"encoding":{"x":{"field":"rf","type":"quantitative"},"y":{"field":"au","type":"quantitative"},"text":{"field":"txt"}}},
    {"data":{"name":"ttl"},"transform":[{"filter":"datum.p=='B' && datum.k=='L'"}],"mark":{"type":"text","font":"Liberation Sans","fontSize":22,"fontWeight":"bold","color":"#000","align":"center","baseline":"middle"},"encoding":{"x":{"field":"rf","type":"quantitative"},"y":{"field":"au","type":"quantitative"},"text":{"field":"txt"}}}
   ]}
  ]}
 ]},
 {"width": 1, "height": 632.9, "data": {"name": "sp"}, "mark": {"type": "text", "text": " ", "fontSize": 1},
  "encoding": {"x": {"field": "v", "type": "quantitative", "scale": {"domain": [0, 1]}, "axis": null}, "y": {"field": "v", "type": "quantitative", "scale": {"domain": [0, 1]}, "axis": null}}},
 {"bounds": "flush", "spacing": 1024.3, "hconcat": [
  {"bounds": "flush", "spacing": 0, "vconcat": [
   {"width": 1, "height": 11.7, "data": {"name": "sp"}, "mark": {"type": "text", "text": " ", "fontSize": 1},
    "encoding": {"x": {"field": "v", "type": "quantitative", "scale": {"domain": [0, 1]}, "axis": null}, "y": {"field": "v", "type": "quantitative", "scale": {"domain": [0, 1]}, "axis": null}}},
   {"bounds": "flush", "spacing": 0, "hconcat": [
    {"width": 8.65, "height": 1, "data": {"name": "sp"}, "mark": {"type": "text", "text": " ", "fontSize": 1},
     "encoding": {"x": {"field": "v", "type": "quantitative", "scale": {"domain": [0, 1]}, "axis": null}, "y": {"field": "v", "type": "quantitative", "scale": {"domain": [0, 1]}, "axis": null}}},
    {"width": 829, "height": 546, "layer": [
     {"data":{"name":"trace"},"transform":[{"filter":"datum.p=='C' && isValid(datum.s)"}],"mark":{"type":"area","interpolate":"monotone","color":"#0c0cc8"},
      "encoding":{"x":{"field":"rf","type":"quantitative","scale":{"domain":[-0.11,1.0244],"nice":false,"zero":false},"axis":{"values":[-0.11,0.09,0.29,0.49,0.69,0.89],"format":".2f","labelOffset":{"condition":{"test":"datum.value < -0.1","value":-7},"value":4},"labelPadding":11,"title":"Rf","titleX":809.3,"titleY":23}},
       "y":{"field":"au","type":"quantitative","scale":{"domain":[0,1000],"nice":false},"axis":{"values":[0,100,200,300,400,500,600,700,800,900,1000],"labelPadding":6,"title":"AU","titleX":-62.5,"titleY":28.4}},
       "y2":{"datum":92},"detail":{"field":"s"}}},
     {"data":{"name":"trace"},"transform":[{"filter":"datum.p=='C'"}],"mark":{"type":"line","interpolate":"monotone","color":"#5d6090","strokeWidth":1.3},"encoding":{"x":{"field":"rf","type":"quantitative"},"y":{"field":"au","type":"quantitative"}}},
     {"data":{"name":"bl"},"transform":[{"filter":"datum.p=='C'"}],"mark":{"type":"rule","color":"#4a4a4a","strokeWidth":1.3},"encoding":{"y":{"field":"au","type":"quantitative"}}},
     {"data":{"name":"vl"},"transform":[{"filter":"datum.p=='C'"}],"mark":{"type":"rule","color":"#8fa2b6","strokeWidth":1.3},"encoding":{"x":{"field":"rf","type":"quantitative"}}},
     {"data":{"name":"tk"},"transform":[{"filter":"datum.p=='C'"}],"mark":{"type":"rule","color":"#d2508a","strokeWidth":1.2},"encoding":{"x":{"field":"rf","type":"quantitative"},"y":{"field":"lo","type":"quantitative"},"y2":{"field":"hi"}}},
     {"data":{"name":"ann"},"transform":[{"filter":"datum.p=='C' && isValid(datum.lx)"}],"mark":{"type":"rule","color":"#111","strokeWidth":1.6},"encoding":{"x":{"field":"lx","type":"quantitative"},"y":{"field":"ly1","type":"quantitative"},"y2":{"field":"ly2"}}},
     {"data":{"name":"ann"},"transform":[{"filter":"datum.p=='C'"}],"mark":{"type":"text","font":"Liberation Serif","fontSize":24,"color":"#111","align":"center","baseline":"middle"},"encoding":{"x":{"field":"rf","type":"quantitative"},"y":{"field":"au","type":"quantitative"},"text":{"field":"name"}}},
     {"data":{"name":"pk"},"transform":[{"filter":"datum.p=='C'"}],"mark":{"type":"text","font":"Liberation Sans","fontSize":8,"color":"#444","align":"center","baseline":"middle"},"encoding":{"x":{"field":"rf","type":"quantitative"},"y":{"field":"au","type":"quantitative"},"text":{"field":"n"}}},
     {"data":{"name":"ttl"},"transform":[{"filter":"datum.p=='C' && datum.k=='T'"}],"mark":{"type":"text","font":"Liberation Serif","fontSize":24,"color":"#111","align":"left","baseline":"middle"},"encoding":{"x":{"field":"rf","type":"quantitative"},"y":{"field":"au","type":"quantitative"},"text":{"field":"txt"}}},
     {"data":{"name":"ttl"},"transform":[{"filter":"datum.p=='C' && datum.k=='L'"}],"mark":{"type":"text","font":"Liberation Sans","fontSize":22,"fontWeight":"bold","color":"#000","align":"center","baseline":"middle"},"encoding":{"x":{"field":"rf","type":"quantitative"},"y":{"field":"au","type":"quantitative"},"text":{"field":"txt"}}}
    ]}
   ]}
  ]},
  {"width": 704, "height": 544, "layer": [
    {"data":{"name":"trace"},"transform":[{"filter":"datum.p=='D' && isValid(datum.s)"}],"mark":{"type":"area","interpolate":"monotone","color":"#0c0cc8"},
     "encoding":{"x":{"field":"rf","type":"quantitative","scale":{"domain":[-0.11,1.017],"nice":false,"zero":false},"axis":{"values":[-0.11,0.09,0.29,0.49,0.69,0.89],"format":".2f","labelOffset":{"condition":{"test":"datum.value < -0.1","value":-10.5},"value":4.4},"labelPadding":10,"title":"Rf","titleX":682.6,"titleY":24}},
      "y":{"field":"au","type":"quantitative","scale":{"domain":[0,1000],"nice":false},"axis":{"values":[0,100,200,300,400,500,600,700,800,900,1000],"labelPadding":8,"title":"AU","titleX":-61.3,"titleY":24.8}},
      "y2":{"datum":92},"detail":{"field":"s"}}},
    {"data":{"name":"trace"},"transform":[{"filter":"datum.p=='D'"}],"mark":{"type":"line","interpolate":"monotone","color":"#5d6090","strokeWidth":1.3},"encoding":{"x":{"field":"rf","type":"quantitative"},"y":{"field":"au","type":"quantitative"}}},
    {"data":{"name":"bl"},"transform":[{"filter":"datum.p=='D'"}],"mark":{"type":"rule","color":"#4a4a4a","strokeWidth":1.3},"encoding":{"y":{"field":"au","type":"quantitative"}}},
    {"data":{"name":"vl"},"transform":[{"filter":"datum.p=='D'"}],"mark":{"type":"rule","color":"#8fa2b6","strokeWidth":1.3},"encoding":{"x":{"field":"rf","type":"quantitative"}}},
    {"data":{"name":"tk"},"transform":[{"filter":"datum.p=='D'"}],"mark":{"type":"rule","color":"#d2508a","strokeWidth":1.2},"encoding":{"x":{"field":"rf","type":"quantitative"},"y":{"field":"lo","type":"quantitative"},"y2":{"field":"hi"}}},
    {"data":{"name":"ann"},"transform":[{"filter":"datum.p=='D'"}],"mark":{"type":"text","font":"Liberation Serif","fontSize":24,"color":"#111","align":"center","baseline":"middle"},"encoding":{"x":{"field":"rf","type":"quantitative"},"y":{"field":"au","type":"quantitative"},"text":{"field":"name"}}},
    {"data":{"name":"pk"},"transform":[{"filter":"datum.p=='D'"}],"mark":{"type":"text","font":"Liberation Sans","fontSize":8,"color":"#444","align":"center","baseline":"middle"},"encoding":{"x":{"field":"rf","type":"quantitative"},"y":{"field":"au","type":"quantitative"},"text":{"field":"n"}}},
    {"data":{"name":"ttl"},"transform":[{"filter":"datum.p=='D' && datum.k=='T'"}],"mark":{"type":"text","font":"Liberation Serif","fontSize":24,"color":"#111","align":"left","baseline":"middle"},"encoding":{"x":{"field":"rf","type":"quantitative"},"y":{"field":"au","type":"quantitative"},"text":{"field":"txt"}}},
    {"data":{"name":"ttl"},"transform":[{"filter":"datum.p=='D' && datum.k=='L'"}],"mark":{"type":"text","font":"Liberation Sans","fontSize":22,"fontWeight":"bold","color":"#000","align":"center","baseline":"middle"},"encoding":{"x":{"field":"rf","type":"quantitative"},"y":{"field":"au","type":"quantitative"},"text":{"field":"txt"}}}
  ]}
 ]},
 {"width": 1, "height": 730.1, "data": {"name": "sp"}, "mark": {"type": "text", "text": " ", "fontSize": 1},
  "encoding": {"x": {"field": "v", "type": "quantitative", "scale": {"domain": [0, 1]}, "axis": null}, "y": {"field": "v", "type": "quantitative", "scale": {"domain": [0, 1]}, "axis": null}}},
 {"bounds": "flush", "spacing": 0, "hconcat": [
  {"width": 613.2, "height": 1, "data": {"name": "sp"}, "mark": {"type": "text", "text": " ", "fontSize": 1},
   "encoding": {"x": {"field": "v", "type": "quantitative", "scale": {"domain": [0, 1]}, "axis": null}, "y": {"field": "v", "type": "quantitative", "scale": {"domain": [0, 1]}, "axis": null}}},
  {"width": 778.7, "height": 555, "layer": [
    {"data":{"name":"trace"},"transform":[{"filter":"datum.p=='E' && isValid(datum.s)"}],"mark":{"type":"area","interpolate":"monotone","color":"#0c0cc8"},
     "encoding":{"x":{"field":"rf","type":"quantitative","scale":{"domain":[-0.114,1.029],"nice":false,"zero":false},"axis":{"values":[-0.11,0.09,0.29,0.49,0.69,0.89],"format":".2f","labelOffset":{"condition":{"test":"datum.value < -0.1","value":-8.5},"value":8},"labelPadding":9.4,"title":"Rf","titleX":764.4,"titleY":18}},
      "y":{"field":"au","type":"quantitative","scale":{"domain":[0,800],"nice":false},"axis":{"values":[0,100,200,300,400,500,600,700,800],"labelPadding":3,"title":"AU","titleX":-59.1,"titleY":26.8}},
      "y2":{"datum":70},"detail":{"field":"s"}}},
    {"data":{"name":"trace"},"transform":[{"filter":"datum.p=='E'"}],"mark":{"type":"line","interpolate":"monotone","color":"#4a4a5e","strokeWidth":1.4,"strokeDash":[7,4]},"encoding":{"x":{"field":"rf","type":"quantitative"},"y":{"field":"au","type":"quantitative"}}},
    {"data":{"name":"bl"},"transform":[{"filter":"datum.p=='E'"}],"mark":{"type":"rule","color":"#333","strokeWidth":1.8},"encoding":{"y":{"field":"au","type":"quantitative"}}},
    {"data":{"name":"vl"},"transform":[{"filter":"datum.p=='E'"}],"mark":{"type":"rule","color":"#8fa2b6","strokeWidth":1.3},"encoding":{"x":{"field":"rf","type":"quantitative"}}},
    {"data":{"name":"tk"},"transform":[{"filter":"datum.p=='E'"}],"mark":{"type":"rule","color":"#d2508a","strokeWidth":1.2},"encoding":{"x":{"field":"rf","type":"quantitative"},"y":{"field":"lo","type":"quantitative"},"y2":{"field":"hi"}}},
    {"data":{"name":"ann"},"transform":[{"filter":"datum.p=='E' && isValid(datum.lx)"}],"mark":{"type":"rule","color":"#111","strokeWidth":1.6},"encoding":{"x":{"field":"lx","type":"quantitative"},"y":{"field":"ly1","type":"quantitative"},"y2":{"field":"ly2"}}},
    {"data":{"name":"ann"},"transform":[{"filter":"datum.p=='E'"}],"mark":{"type":"text","font":"Liberation Serif","fontSize":24,"color":"#111","align":"center","baseline":"middle"},"encoding":{"x":{"field":"rf","type":"quantitative"},"y":{"field":"au","type":"quantitative"},"text":{"field":"name"}}},
    {"data":{"name":"pk"},"transform":[{"filter":"datum.p=='E'"}],"mark":{"type":"text","font":"Liberation Sans","fontSize":8,"color":"#444","align":"center","baseline":"middle"},"encoding":{"x":{"field":"rf","type":"quantitative"},"y":{"field":"au","type":"quantitative"},"text":{"field":"n"}}},
    {"data":{"name":"ttl"},"transform":[{"filter":"datum.p=='E' && datum.k=='T'"}],"mark":{"type":"text","font":"Liberation Serif","fontSize":24,"color":"#111","align":"left","baseline":"middle"},"encoding":{"x":{"field":"rf","type":"quantitative"},"y":{"field":"au","type":"quantitative"},"text":{"field":"txt"}}},
    {"data":{"name":"ttl"},"transform":[{"filter":"datum.p=='E' && datum.k=='L'"}],"mark":{"type":"text","font":"Liberation Sans","fontSize":22,"fontWeight":"bold","color":"#000","align":"center","baseline":"middle"},"encoding":{"x":{"field":"rf","type":"quantitative"},"y":{"field":"au","type":"quantitative"},"text":{"field":"txt"}}}
  ]}
 ]}
]
}
